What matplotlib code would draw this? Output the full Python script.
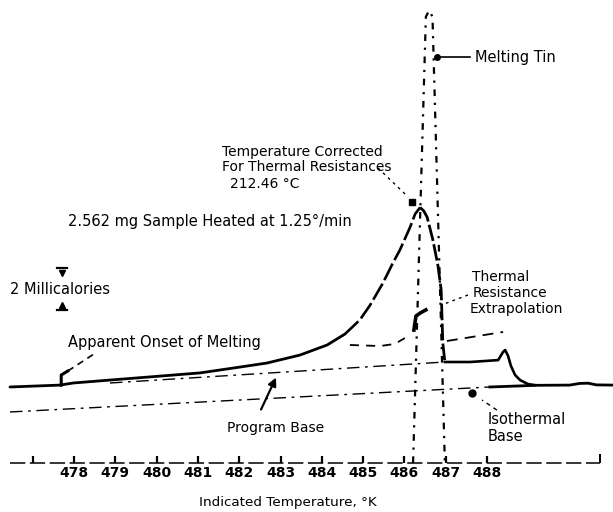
import matplotlib
matplotlib.use("Agg")
import matplotlib.pyplot as plt

# ---- DSC trace: indicated temperature (K) vs. heat-flow signal (millicalories) ----
trace_T = [476.45, 477.66, 477.98, 478.87, 479.84, 481.05, 481.85, 482.67, 483.47,
           484.13, 484.56]
trace_S = [3.62, 3.71, 3.81, 3.95, 4.10, 4.29, 4.52, 4.76, 5.14,
           5.62, 6.14]

# upper flank, peak and steep return of the melting endotherm
peak_T = [484.56, 484.92, 485.17, 485.48, 485.72, 485.89, 486.14, 486.26, 486.38,
          486.47, 486.55, 486.69, 486.81, 486.89, 486.91, 486.93, 486.98]
peak_S = [6.14, 6.81, 7.52, 8.57, 9.52, 10.14, 11.24, 11.86, 12.17,
          12.00, 11.71, 10.62, 9.43, 8.24, 6.95, 5.71, 4.81]

# plateau after melting, small secondary bump and return to base
tail_T = [486.98, 487.59, 488.27, 488.39, 488.44, 488.51, 488.58, 488.68, 488.80,
          488.99, 489.16]
tail_S = [4.81, 4.81, 4.90, 5.29, 5.38, 5.10, 4.62, 4.19, 3.95,
          3.76, 3.71]

# final base line
final_T = [488.07, 489.20, 490.00, 490.25, 490.45, 490.65, 491.05]
final_S = [3.62, 3.70, 3.71, 3.79, 3.80, 3.72, 3.71]

# straight reference lines
iso_T = [476.45, 488.07]
iso_S = [2.43, 3.62]
prog_T = [478.87, 486.98]
prog_S = [3.81, 4.81]

# melting-tin calibration trace (thermal-resistance slope lines)
tin_T = [486.21, 486.52, 486.60, 486.68, 486.98]
tin_S = [0.0, 21.25, 21.55, 21.25, 0.0]

# extrapolation dashes either side of the peak
ext_left_T = [484.68, 485.41, 485.77, 486.01]
ext_left_S = [5.62, 5.57, 5.67, 5.95]
ext_mark_T = [486.23, 486.28, 486.38, 486.52]
ext_mark_S = [6.33, 7.00, 7.14, 7.29]
ext_right_T = [487.03, 488.39]
ext_right_S = [5.81, 6.24]

# onset marker
onset_T = [477.69, 477.69, 477.85]
onset_S = [3.71, 4.19, 4.38]

# temperature axis
tick_T = [477, 478, 479, 480, 481, 482, 483, 484, 485, 486, 487, 488]
tick_labels = ["", "478", "479", "480", "481", "482", "483", "484", "485", "486", "487", "488"]
axis_T = [476.45, 490.74]

# scale bar (2 millicalories)
scale_T = 477.71
scale_S = [7.29, 9.29]

fig = plt.figure(figsize=(6.13, 5.12), dpi=100)
ax = fig.add_axes([0, 0, 1, 1])
ax.set_xlim(476.208, 491.051)
ax.set_ylim(-2.333, 22.048)
ax.axis("off")

k = "black"

# main trace
ax.plot(trace_T, trace_S, color=k, lw=2.0, solid_capstyle="round")
ax.plot(peak_T[:9], peak_S[:9], color=k, lw=1.9, linestyle=(0, (7, 1.5)))
ax.plot(peak_T[8:], peak_S[8:], color=k, lw=2.0, linestyle=(0, (6, 1.2)))
ax.plot(tail_T, tail_S, color=k, lw=1.9)
ax.plot(final_T, final_S, color=k, lw=2.0)

# base lines
ax.plot(iso_T, iso_S, color=k, lw=1.0, linestyle=(0, (9, 4, 2, 4)))
ax.plot(prog_T, prog_S, color=k, lw=1.0, linestyle=(0, (9, 4, 2, 4)))

# melting tin lines
ax.plot(tin_T, tin_S, color=k, lw=1.6, linestyle=(0, (3, 3, 1, 3)))

# extrapolation
ax.plot(ext_left_T, ext_left_S, color=k, lw=1.3, linestyle=(0, (5, 4)))
ax.plot(ext_mark_T, ext_mark_S, color=k, lw=2.6)
ax.plot(ext_right_T, ext_right_S, color=k, lw=1.3, linestyle=(0, (6, 4)))

# onset marker
ax.plot(onset_T, onset_S, color=k, lw=2.2)

# temperature axis
ax.plot(axis_T, [0, 0], color=k, lw=1.1, linestyle=(0, (10, 3)))
ax.vlines(tick_T, 0, 0.33, color=k, lw=1.6)
ax.vlines([axis_T[1]], 0, 0.45, color=k, lw=1.4)
for t, lab in zip(tick_T, tick_labels):
    ax.text(t, -0.48, lab, ha="center", va="center", fontsize=10,
            fontweight="bold", color=k)
ax.text(483.18, -1.86, "Indicated Temperature, °K", ha="center", va="center",
        fontsize=9.7, color=k)

# scale bar
ax.plot([scale_T - 0.13, scale_T + 0.13], [scale_S[1], scale_S[1]], color=k, lw=1.6)
ax.plot([scale_T - 0.13, scale_T + 0.13], [scale_S[0], scale_S[0]], color=k, lw=1.6)
ax.plot([scale_T], [scale_S[1] - 0.22], marker="v", ms=5, color=k)
ax.plot([scale_T], [scale_S[0] + 0.22], marker="^", ms=5, color=k)
ax.text(476.45, 8.24, "2 Millicalories", ha="left", va="center", fontsize=10.5, color=k)

# annotations
ax.text(477.85, 11.52, "2.562 mg Sample Heated at 1.25°/min", ha="left", va="center",
        fontsize=10.5, color=k)

ax.text(477.85, 5.76, "Apparent Onset of Melting", ha="left", va="center",
        fontsize=10.5, color=k)
ax.plot([477.85, 478.56], [4.38, 5.29], color=k, lw=1.2, linestyle=(0, (4, 3)))

ax.text(481.58, 14.80, "Temperature Corrected", ha="left", va="center", fontsize=10, color=k)
ax.text(481.58, 14.08, "For Thermal Resistances", ha="left", va="center", fontsize=10, color=k)
ax.text(481.78, 13.30, "212.46 °C", ha="left", va="center", fontsize=10, color=k)
ax.plot([485.36, 486.09], [14.05, 12.67], color=k, lw=1.0, linestyle=(0, (2, 3)))
ax.plot([486.18], [12.43], marker="s", ms=5, color=k)

ax.text(487.72, 19.33, "Melting Tin", ha="left", va="center", fontsize=10.5, color=k)
ax.plot([487.59, 486.79], [19.33, 19.33], color=k, lw=1.2)
ax.plot([486.79], [19.33], marker="o", ms=4, color=k)

ax.text(487.64, 8.88, "Thermal", ha="left", va="center", fontsize=10, color=k)
ax.text(487.64, 8.10, "Resistance", ha="left", va="center", fontsize=10, color=k)
ax.text(487.59, 7.34, "Extrapolation", ha="left", va="center", fontsize=10, color=k)
ax.plot([487.54, 486.89], [8.00, 7.52], color=k, lw=1.0, linestyle=(0, (2, 3)))

ax.text(481.70, 1.67, "Program Base", ha="left", va="center", fontsize=10, color=k)
ax.annotate("", xy=(482.92, 4.19), xytext=(482.50, 2.43),
            arrowprops=dict(arrowstyle="-|>", color=k, lw=1.6, mutation_scale=12))

ax.text(488.02, 2.05, "Isothermal", ha="left", va="center", fontsize=10.5, color=k)
ax.text(488.02, 1.24, "Base", ha="left", va="center", fontsize=10.5, color=k)
ax.plot([488.24, 487.88], [2.52, 3.00], color=k, lw=1.0, linestyle=(0, (3, 3)))
ax.plot([487.64], [3.33], marker="o", ms=5, color=k)

fig.savefig("out.png", dpi=100, facecolor="white")
